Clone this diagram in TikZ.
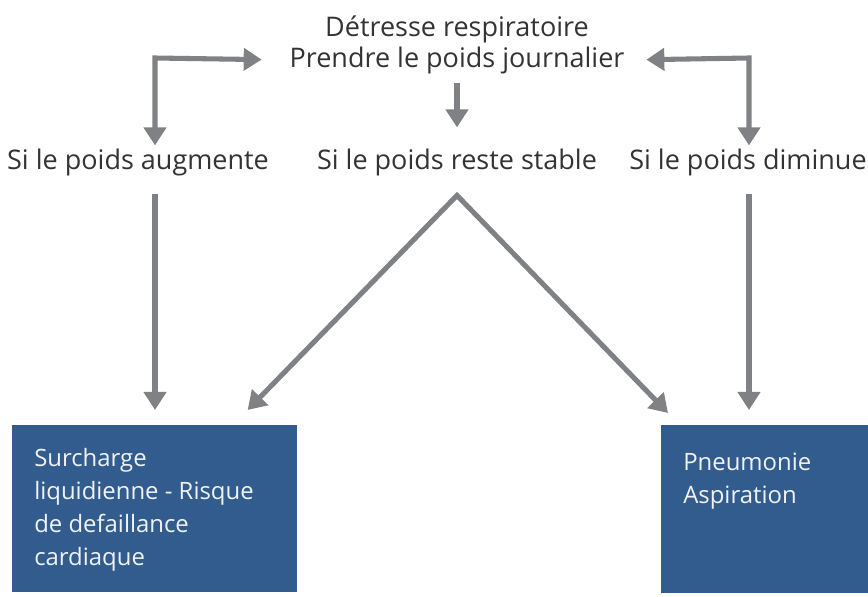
\documentclass[tikz,border=0pt]{standalone}
\usepackage{fontspec}
\setmainfont{Open Sans}
\usetikzlibrary{arrows.meta,positioning}
\definecolor{arrowgray}{HTML}{808184}
\definecolor{boxblue}{HTML}{325C8E}
\definecolor{textgray}{HTML}{333333}
\begin{document}
\begin{tikzpicture}[x=0.025cm,y=-0.025cm]
        \tikzstyle{cond}=[font=\fontsize{19.2}{23.5}\selectfont,text=textgray,inner sep=2pt]
        \tikzstyle{outcome}=[fill=boxblue,draw=none,anchor=north west,inner sep=0pt]
        \tikzstyle{outtext}=[font=\fontsize{17}{23.5}\selectfont,text=white!92!boxblue,align=left,anchor=north west,inner sep=0pt]
        \tikzstyle{flow}=[draw=arrowgray,line width=3.6pt,>={Triangle[width=15.6pt,length=12.8pt]}]

        \useasboundingbox (0,0) rectangle (868,597);

        % question and the three cases
        \node [cond] (det)  at (457,29)  {Détresse respiratoire};
        \node [cond] (pds)  at (457,60)  {Prendre le poids journalier};
        \node [cond] (aug)  at (138,162) {Si le poids augmente};
        \node [cond] (stab) at (457,162) {Si le poids reste stable};
        \node [cond] (dim)  at (748,162) {Si le poids diminue};

        % outcomes
        \node [outcome,minimum width=7.125cm,minimum height=4.175cm] (lbox) at (12,425) {};
        \node [outcome,minimum width=5.2cm,minimum height=4.2cm] (rbox) at (661,425) {};
        \node [outtext] (ltxt) at (34,448) {Surcharge\\liquidienne - Risque\\de defaillance\\cardiaque};
        \node [outtext] (rtxt) at (683,453) {Pneumonie\\Aspiration};

        \coordinate (lcorner) at (155,58);
        \coordinate (rcorner) at (749,58);
        \coordinate (apex) at ([yshift=-0.42cm]stab.south);

        \path[flow,<->,shorten >=0.62cm] (lcorner |- aug.north) -- (lcorner) -- (pds.west);
        \path[flow,<->,shorten >=0.47cm] (rcorner |- dim.north) -- (rcorner) -- (pds.east);
        \path[flow,->,shorten <=0.15cm,shorten >=0.45cm] (pds.south) -- (stab.north);

        \path[flow,->,shorten <=0.38cm,shorten >=0.375cm] (lcorner |- aug.south) -- (lcorner |- lbox.north);
        \path[flow,->,shorten <=0.38cm,shorten >=0.375cm] (rcorner |- dim.south) -- (rcorner |- rbox.north);
        \path[flow,<->] ([shift={(-50,-15)}]lbox.north east) -- (apex) -- ([shift={(7,-12)}]rbox.north west);
\end{tikzpicture}
\end{document}
